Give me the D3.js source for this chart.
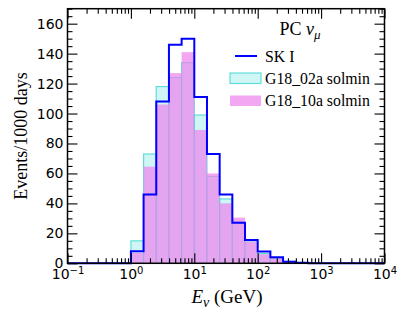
<!DOCTYPE html>
<html>
<head>
<meta charset="utf-8">
<script src="https://cdn.jsdelivr.net/npm/d3@7"></script>
<style>
    body { margin: 0; background: white; }
    svg { display: block; }
    .tick text { font-family: 'DejaVu Sans', sans-serif; font-size: 14px; fill: black; }
    .tick line { stroke: black; stroke-width: 1.1; }
    .serif { font-family: 'Liberation Serif', serif; fill: black; }
</style>
</head>
<body>
<svg id="chart" width="408" height="318"></svg>
<script>
// histogram bins, 5 per decade (GeV)
var binEdges = [1, 1.585, 2.512, 3.981, 6.310, 10, 15.85, 25.12, 39.81, 63.10, 100, 158.5, 251.2, 398.1, 631.0, 1000];
// events / 1000 days per bin
var skI    = [8, 46, 108, 146, 150, 111, 73, 46, 27, 15.6, 7.8, 4, 1, 0.3, 0];
var g18_02 = [15, 73, 118, 124, 134, 99, 58, 43, 27.5, 15, 6.5, 3.3, 1.3, 0.5, 0.2];
var g18_10 = [7, 64.5, 106, 127, 141, 89, 60, 40, 30.5, 14.5, 6, 3.3, 1.1, 0.4, 0.2];

var xMajor = [0.1, 1, 10, 100, 1000, 10000];
var yMajor = [0, 20, 40, 60, 80, 100, 120, 140, 160];

var pLeft = 67.5, pRight = 384.5, pTop = 8.7, pBottom = 263.3;

var svg = d3.select("#chart");

var x = d3.scaleLog().domain([0.1, 10000]).range([pLeft, pRight]);
var y = d3.scaleLinear().domain([0, 170]).range([pBottom, pTop]);

var xMinor = x.ticks().filter(function (d) { return xMajor.indexOf(d) < 0; });
var yMinor = d3.range(0, 171, 5).filter(function (d) { return d % 20 !== 0; });

function bins(values) {
    return values.map(function (v, i) {
        return {x0: binEdges[i], x1: binEdges[i + 1], v: v};
    }).filter(function (d) { return d.v > 0; });
}

// G18_02a solmin
svg.append("g").selectAll("rect")
    .data(bins(g18_02))
    .enter().append("rect")
    .attr("x", function (d) { return x(d.x0); })
    .attr("width", function (d) { return x(d.x1) - x(d.x0); })
    .attr("y", function (d) { return y(d.v); })
    .attr("height", function (d) { return y(0) - y(d.v); })
    .attr("fill", "rgba(175,238,238,0.6)")
    .attr("stroke", "rgba(64,215,208,0.8)")
    .attr("stroke-width", 1.2);

// G18_10a solmin
svg.append("g").selectAll("rect")
    .data(bins(g18_10))
    .enter().append("rect")
    .attr("x", function (d) { return x(d.x0); })
    .attr("width", function (d) { return x(d.x1) - x(d.x0); })
    .attr("y", function (d) { return y(d.v); })
    .attr("height", function (d) { return y(0) - y(d.v); })
    .attr("fill", "rgba(238,130,238,0.7)");

// SK I step line
var stepPts = [[0.1, 0]];
skI.forEach(function (v, i) { stepPts.push([binEdges[i], v]); });
stepPts.push([binEdges[binEdges.length - 1], 0]);
stepPts.push([10000, 0]);

svg.append("path")
    .datum(stepPts)
    .attr("fill", "none")
    .attr("stroke", "#0000ff")
    .attr("stroke-width", 2)
    .attr("d", d3.line()
        .x(function (d) { return x(d[0]); })
        .y(function (d) { return y(d[1]); })
        .curve(d3.curveStepAfter));

// axes, ticks inside on all four sides
function supLabel(sel) {
    sel.selectAll(".tick text").each(function (d) {
        var t = d3.select(this);
        t.text(null);
        t.append("tspan").text("10");
        t.append("tspan").attr("dy", "-0.5em").attr("font-size", "10px")
            .text(String(Math.round(Math.log10(d))).replace("-", "\u2212"));
    });
}

svg.append("g").attr("transform", "translate(0," + pBottom + ")")
    .call(d3.axisBottom(x).tickValues(xMajor).tickSize(-10).tickPadding(6))
    .call(supLabel);
svg.append("g").attr("transform", "translate(0," + pBottom + ")")
    .call(d3.axisBottom(x).tickValues(xMinor).tickSize(-5).tickFormat(""));
svg.append("g").attr("transform", "translate(0," + pTop + ")")
    .call(d3.axisTop(x).tickValues(xMajor).tickSize(-10).tickFormat(""));
svg.append("g").attr("transform", "translate(0," + pTop + ")")
    .call(d3.axisTop(x).tickValues(xMinor).tickSize(-5).tickFormat(""));

svg.append("g").attr("transform", "translate(" + pLeft + ",0)")
    .call(d3.axisLeft(y).tickValues(yMajor).tickSize(-10).tickPadding(4));
svg.append("g").attr("transform", "translate(" + pLeft + ",0)")
    .call(d3.axisLeft(y).tickValues(yMinor).tickSize(-5).tickFormat(""));
svg.append("g").attr("transform", "translate(" + pRight + ",0)")
    .call(d3.axisRight(y).tickValues(yMajor).tickSize(-10).tickFormat(""));
svg.append("g").attr("transform", "translate(" + pRight + ",0)")
    .call(d3.axisRight(y).tickValues(yMinor).tickSize(-5).tickFormat(""));

svg.selectAll(".domain").remove();
svg.selectAll("g").attr("font-family", null).attr("font-size", null);

svg.append("rect")
    .attr("x", pLeft).attr("y", pTop)
    .attr("width", pRight - pLeft).attr("height", pBottom - pTop)
    .attr("fill", "none").attr("stroke", "black").attr("stroke-width", 1.5);

// axis labels
svg.append("text").attr("class", "serif")
    .attr("transform", "translate(27," + ((pTop + pBottom) / 2) + ") rotate(-90)")
    .attr("text-anchor", "middle").attr("font-size", "18px")
    .text("Events/1000 days");

var xl = svg.append("text").attr("class", "serif")
    .attr("x", (pLeft + pRight) / 2 + 1).attr("y", 303)
    .attr("text-anchor", "middle").attr("font-size", "19px");
xl.append("tspan").attr("font-style", "italic").text("E");
xl.append("tspan").attr("font-style", "italic").attr("font-size", "14px").attr("dy", 4).text("\u03bd");
xl.append("tspan").attr("dy", -4).text(" (GeV)");

// legend
var title = svg.append("text").attr("class", "serif")
    .attr("x", 300).attr("y", 35)
    .attr("text-anchor", "middle").attr("font-size", "18px");
title.append("tspan").text("PC ");
title.append("tspan").attr("font-style", "italic").text("\u03bd");
title.append("tspan").attr("font-style", "italic").attr("font-size", "13px").attr("dy", 4).text("\u03bc");

var legend = svg.append("g");
legend.append("line")
    .attr("x1", 235).attr("x2", 257).attr("y1", 56).attr("y2", 56)
    .attr("stroke", "#0000ff").attr("stroke-width", 2);
legend.append("rect")
    .attr("x", 230).attr("y", 73).attr("width", 31).attr("height", 10.5)
    .attr("fill", "rgba(175,238,238,0.6)")
    .attr("stroke", "rgba(64,215,208,0.8)").attr("stroke-width", 1.2);
legend.append("rect")
    .attr("x", 230).attr("y", 95.5).attr("width", 31).attr("height", 10.5)
    .attr("fill", "rgba(238,130,238,0.7)");

var legendNames = ["SK I", "G18_02a solmin", "G18_10a solmin"];
var legendY = [61.5, 83.5, 105.5];
legend.selectAll("text.entry")
    .data(legendNames)
    .enter().append("text")
    .attr("class", "serif entry")
    .attr("x", 265)
    .attr("y", function (d, i) { return legendY[i]; })
    .attr("font-size", "15.8px")
    .text(function (d) { return d; });
</script>
</body>
</html>
